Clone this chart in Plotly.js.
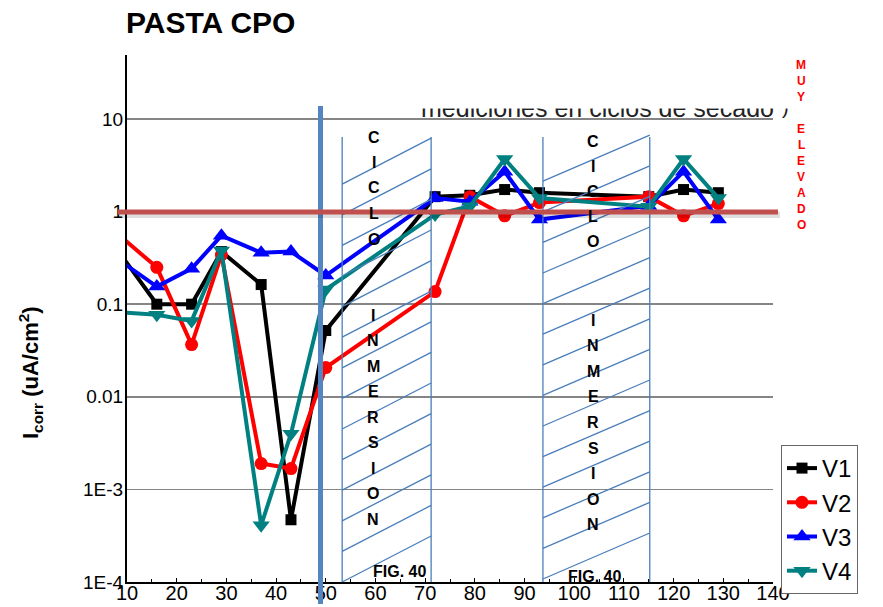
<!DOCTYPE html>
<html>
<head>
<meta charset="utf-8">
<script src="https://cdn.plot.ly/plotly-3.0.1.min.js"></script>
<style>html,body{margin:0;padding:0;background:#fff;}#chart{width:883px;height:607px;}</style>
</head>
<body>
<div id="chart"></div>
<script>
// ---- data ----
const days = [8, 16, 23, 29, 37, 43, 50, 72, 79, 86, 93, 115, 122, 129];
const V1 = [0.39, 0.1, 0.1, 0.37, 0.163, 4.7e-4, 0.052, 1.45, 1.5, 1.73, 1.6, 1.45, 1.73, 1.6];
const V2 = [0.58, 0.25, 0.0366, 0.34, 1.9e-3, 1.68e-3, 0.0207, 0.137, 1.45, 0.9, 1.25, 1.45, 0.9, 1.22];
const V3 = [0.31, 0.155, 0.242, 0.55, 0.36, 0.37, 0.204, 1.4, 1.28, 2.7, 0.82, 1.15, 2.7, 0.82];
const V4 = [0.082, 0.077, 0.066, 0.38, 4.1e-4, 4.0e-3, 0.144, 0.93, 1.14, 3.7, 1.4, 1.13, 3.7, 1.4];
const seriesNames = ['V1', 'V2', 'V3', 'V4'];
const xTicks = [10, 20, 30, 40, 50, 60, 70, 80, 90, 100, 110, 120, 130, 140];
const yTickVals = [1e-4, 1e-3, 0.01, 0.1, 1, 10];
const yTickText = ['1E-4', '1E-3', '0.01', '0.1', '1', '10'];
const cycleBoxes = [[53.3, 71.2], [93.7, 115.2]];
const cycleWord = ['C', 'I', 'C', 'L', 'O'];
const immersionWord = ['I', 'N', 'M', 'E', 'R', 'S', 'I', 'O', 'N'];
const warnWord1 = ['M', 'U', 'Y'];
const warnWord2 = ['E', 'L', 'E', 'V', 'A', 'D', 'O'];

// ---- geometry helpers (plot area in px) ----
const L = 127, R = 110, T = 55, B = 25, W = 883, H = 607;
const PW = W - L - R, PH = H - T - B, BOT = H - B;
const xP = px => (px - L) / PW;
const yP = py => (BOT - py) / PH;

const colors = ['#000000', '#ff0000', '#0000ff', '#008080'];
const symbols = ['square', 'circle', 'triangle-up', 'triangle-down'];
const msizes = [11, 13, 15, 15];
const allY = [V1, V2, V3, V4];

const traces = allY.map((ys, i) => ({
  x: days, y: ys, name: seriesNames[i], type: 'scatter', mode: 'lines+markers',
  line: {color: colors[i], width: 4},
  marker: {symbol: symbols[i], size: msizes[i], color: colors[i]},
  cliponaxis: true
}));

const hatchColor = '#4a7ebb';
const shapes = [];
const boxTop = yP(137);
const hatchPhase = [0, 3];
const gap = 30.6, rise = 46;
cycleBoxes.forEach((b, bi) => {
  shapes.push({type: 'line', xref: 'x', yref: 'paper', x0: b[0], x1: b[0], y0: 0, y1: boxTop, line: {color: hatchColor, width: 1.3}, layer: 'above'});
  shapes.push({type: 'line', xref: 'x', yref: 'paper', x0: b[1], x1: b[1], y0: 0, y1: boxTop, line: {color: hatchColor, width: 1.3}, layer: 'above'});
  for (let k = 0; k < 20; k++) {
    const yl = BOT - hatchPhase[bi] - k * gap;
    const yr = yl - rise;
    if (yr < 137 - 2) break;
    shapes.push({type: 'line', xref: 'x', yref: 'paper', x0: b[0], x1: b[1], y0: yP(yl), y1: yP(yr), line: {color: hatchColor, width: 1.3}, layer: 'above'});
  }
});
// thick vertical marker line
shapes.push({type: 'line', xref: 'paper', yref: 'paper', x0: xP(320.5), x1: xP(320.5), y0: yP(106), y1: yP(604), line: {color: '#5585c0', width: 5}, layer: 'above'});
// shadow + red limit line at 1
shapes.push({type: 'line', xref: 'paper', yref: 'paper', x0: xP(119), x1: xP(780), y0: yP(215), y1: yP(215), line: {color: 'rgba(0,0,0,0.13)', width: 6}, layer: 'above'});
shapes.push({type: 'line', xref: 'paper', yref: 'paper', x0: xP(118), x1: xP(778), y0: yP(212), y1: yP(212), line: {color: '#c0504d', width: 5}, layer: 'above'});

const annotations = [];
const letterFont = {family: 'Liberation Sans, Arial, sans-serif', size: 16, color: '#000'};
function stack(letters, pxX, startY, step, font) {
  letters.forEach((c, i) => {
    annotations.push({text: '<b>' + c + '</b>', xref: 'paper', yref: 'paper', x: xP(pxX), y: yP(startY + i * step),
      xanchor: 'center', yanchor: 'middle', showarrow: false, font: font});
  });
}
stack(cycleWord, 374, 137, 25.5, letterFont);
stack(immersionWord, 373, 315, 25.5, letterFont);
stack(cycleWord, 593, 141, 25.2, letterFont);
stack(immersionWord, 593, 320, 25.6, letterFont);

annotations.push({text: '<b>FIG. 40</b>', xref: 'paper', yref: 'paper', x: xP(399), y: yP(571), xanchor: 'center', yanchor: 'middle', showarrow: false,
  font: {family: 'Liberation Sans, Arial, sans-serif', size: 16, color: '#000'}});
annotations.push({text: '<b>FIG. 40</b>', xref: 'paper', yref: 'paper', x: xP(594), y: yP(576), xanchor: 'center', yanchor: 'middle', showarrow: false,
  font: {family: 'Liberation Sans, Arial, sans-serif', size: 16, color: '#000'}});

// partly hidden caption (its upper part is masked by a white box)
annotations.push({text: 'mediciones en ciclos de secado', xref: 'paper', yref: 'paper', x: xP(597), y: yP(108), xanchor: 'center', yanchor: 'middle', showarrow: false,
  font: {family: 'Liberation Sans, Arial, sans-serif', size: 25, color: '#222'}});
annotations.push({text: ')', xref: 'paper', yref: 'paper', x: xP(785), y: yP(107), xanchor: 'center', yanchor: 'middle', showarrow: false,
  font: {family: 'Liberation Sans, Arial, sans-serif', size: 20, color: '#222'}});
annotations.push({text: '.', xref: 'paper', yref: 'paper', x: xP(597), y: yP(90.5), xanchor: 'center', yanchor: 'middle', showarrow: false,
  width: 382, height: 34, bgcolor: '#ffffff', borderpad: 0, font: {size: 10, color: '#ffffff'}});

// red vertical warning text (drawn after the mask)
const redFont = {family: 'Liberation Sans, Arial, sans-serif', size: 12, color: '#ff0000'};
stack(warnWord1, 801, 65, 16, redFont);
stack(warnWord2, 801, 129, 16, redFont);

// y axis title
annotations.push({text: '<b>I<sub>corr</sub> (uA/cm<sup>2</sup>)</b>', xref: 'paper', yref: 'paper', x: xP(30), y: yP(372), textangle: -90,
  xanchor: 'center', yanchor: 'middle', showarrow: false, font: {family: 'Liberation Sans, Arial, sans-serif', size: 22, color: '#000'}});

const layout = {
  width: W, height: H,
  margin: {l: L, r: R, t: T, b: B, pad: 0},
  paper_bgcolor: '#fff', plot_bgcolor: '#fff',
  title: {text: '<b>PASTA CPO</b>', x: 126 / W, xanchor: 'left', xref: 'container', y: 1 - 22 / H, yanchor: 'middle', yref: 'container',
    font: {family: 'Liberation Sans, Arial, sans-serif', size: 30, color: '#000'}},
  xaxis: {range: [10, 140], tickmode: 'array', tickvals: xTicks, ticktext: xTicks.map(String),
    ticks: 'inside', ticklen: 4, tickwidth: 1, tickcolor: '#000', ticklabelstandoff: -8,
    minor: {dtick: 5, tick0: 5, ticks: 'inside', ticklen: 3, tickcolor: '#000'},
    showline: true, linecolor: '#000', linewidth: 2, showgrid: false, zeroline: false,
    tickfont: {family: 'Liberation Sans Narrow, Liberation Sans, Arial, sans-serif', size: 20, color: '#000'}},
  yaxis: {type: 'log', range: [-4, 1.691], tickmode: 'array', tickvals: yTickVals, ticktext: yTickText,
    ticks: '', showline: true, linecolor: '#000', linewidth: 2, showgrid: true, gridcolor: '#858585', gridwidth: 1.5, zeroline: false,
    ticklabelstandoff: -2,
    tickfont: {family: 'Liberation Sans, Arial, sans-serif', size: 19, color: '#000'}},
  showlegend: true,
  legend: {x: xP(781), xanchor: 'left', y: yP(445), yanchor: 'top', bgcolor: '#fff', bordercolor: '#666', borderwidth: 1,
    font: {family: 'Liberation Sans, Arial, sans-serif', size: 24, color: '#000'}, tracegroupgap: 0},
  shapes: shapes,
  annotations: annotations
};

Plotly.newPlot('chart', traces, layout, {displayModeBar: false, staticPlot: true});
</script>
</body>
</html>
